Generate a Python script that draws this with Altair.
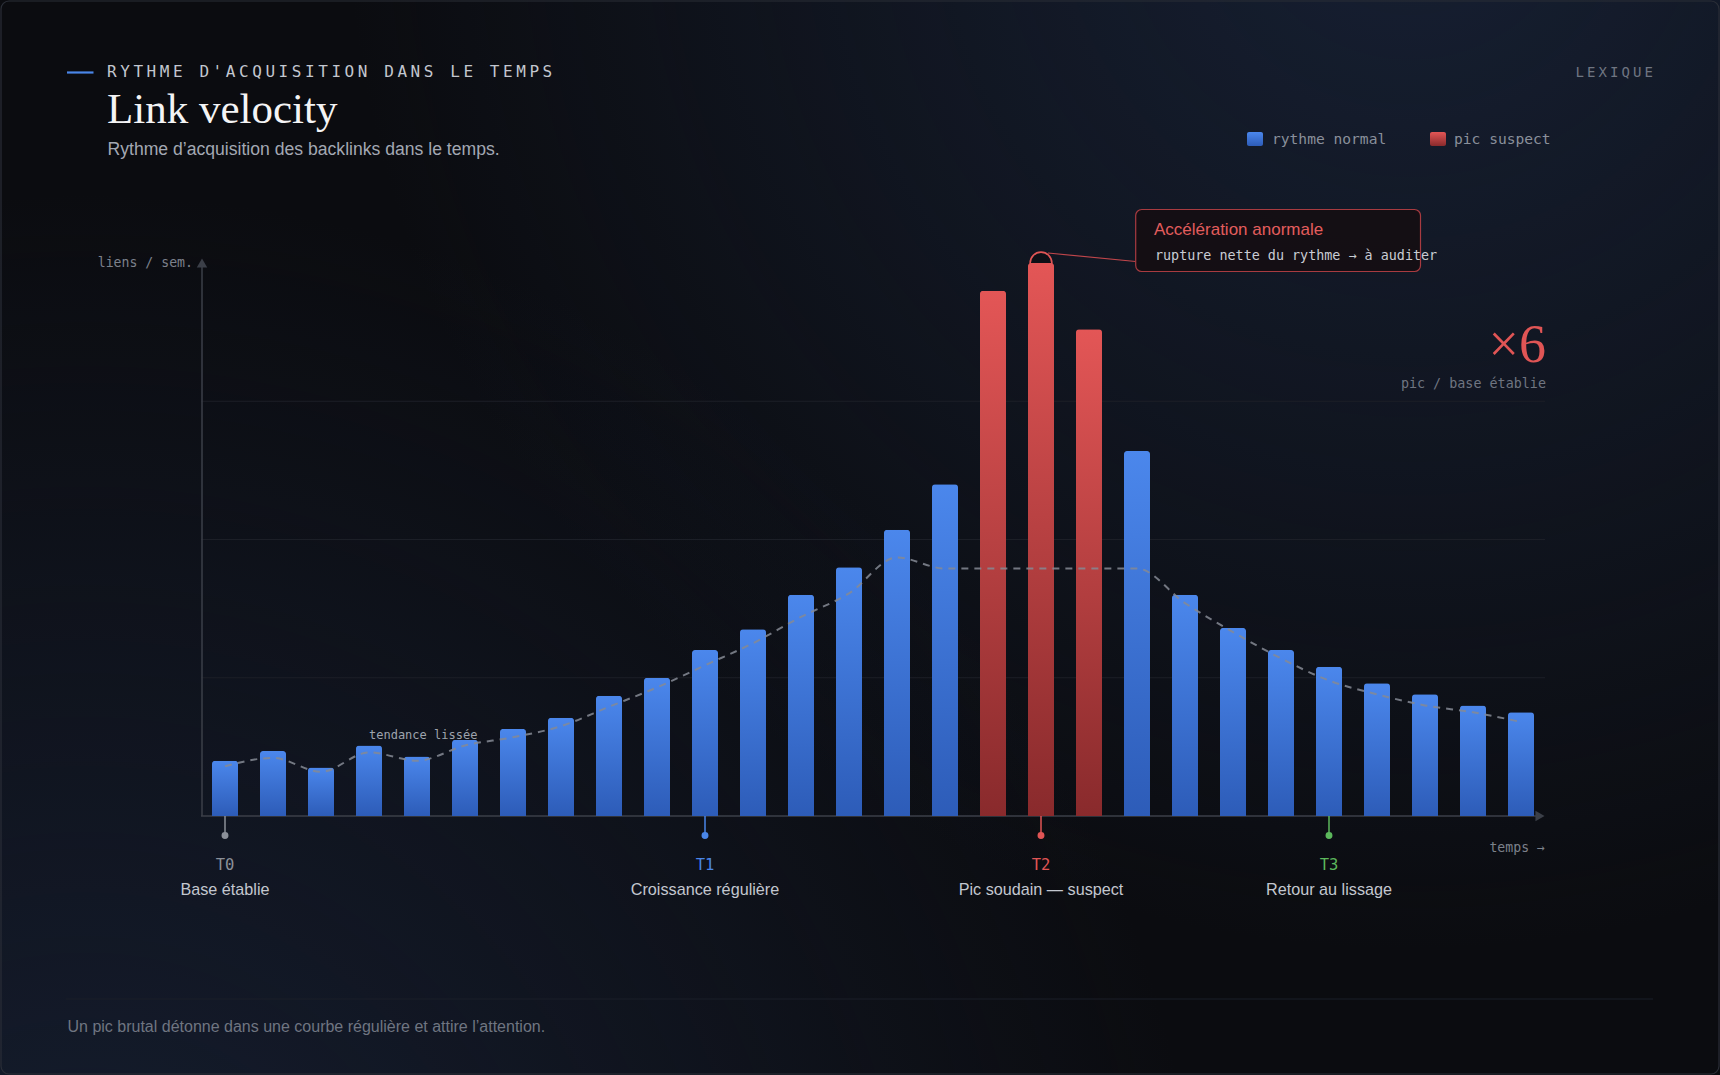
import altair as alt
import pandas as pd

# ---- data -------------------------------------------------------------
weeks = list(range(28))
links_per_week = [4.0, 4.7, 3.5, 5.1, 4.3, 5.5, 6.3, 7.1, 8.7, 10.0,
                  12.0, 13.5, 16.0, 18.0, 20.7, 24.0, 38.0, 40.0, 35.2, 26.4,
                  16.0, 13.6, 12.0, 10.8, 9.6, 8.8, 8.0, 7.5]
suspect_weeks = [16, 17, 18]
smoothed_trend = [3.6, 4.2, 3.2, 4.6, 4.0, 5.1, 5.7, 6.5, 7.9, 9.3,
                  10.9, 12.5, 14.4, 16.1, 18.7, 17.9, 17.9, 17.9, 17.9, 17.9,
                  15.4, 13.3, 11.4, 9.8, 8.8, 8.0, 7.5, 6.8]
grid_values = [10, 20, 30]

milestone_weeks = [0, 10, 17, 23]
milestone_codes = ["T0", "T1", "T2", "T3"]
milestone_labels = ["Base établie", "Croissance régulière",
                    "Pic soudain — suspect", "Retour au lissage"]
milestone_colors = ["#8b9099", "#4a86e8", "#e05555", "#5cb85c"]

peak_week = 17
peak_value = 40.0

# ---- layout ---------------------------------------------------------------
W, H = 1344, 553          # plot area
PX, PY = 201, 263         # plot origin on the page
SANS = "Liberation Sans"
MONO = "DejaVu Sans Mono"
SERIF = "Liberation Serif"

xscale = alt.Scale(domain=[-0.5, 27.5], nice=False, zero=False, padding=0)
yscale = alt.Scale(domain=[0, 40], nice=False, padding=0)

blue_fill = alt.LinearGradient(
    gradient="linear", x1=0, y1=0, x2=0, y2=1,
    stops=[alt.GradientStop(color="#4b87ec", offset=0),
           alt.GradientStop(color="#2d5cb8", offset=1)])
red_fill = alt.LinearGradient(
    gradient="linear", x1=0, y1=0, x2=0, y2=1,
    stops=[alt.GradientStop(color="#e35656", offset=0),
           alt.GradientStop(color="#892a2c", offset=1)])


def one():
    return alt.Chart(pd.DataFrame({"k": [0]}))


def box(X1, Y1, X2, Y2, **kw):
    return one().mark_rect(**kw).encode(
        x=alt.value(X1 - PX), x2=alt.value(X2 - PX),
        y=alt.value(Y1 - PY), y2=alt.value(Y2 - PY))


def line(X1, Y1, X2, Y2, color, width=1.0, **kw):
    return one().mark_rule(color=color, strokeWidth=width, **kw).encode(
        x=alt.value(X1 - PX), x2=alt.value(X2 - PX),
        y=alt.value(Y1 - PY), y2=alt.value(Y2 - PY))


def txt(s, X, Y, size, color, font=SANS, align="left", baseline="middle"):
    return alt.Chart(pd.DataFrame({"t": [s]})).mark_text(
        font=font, fontSize=size, color=color, align=align, baseline=baseline
    ).encode(x=alt.value(X - PX), y=alt.value(Y - PY), text="t:N")


def spaced(s, X, Y, step, size, color):
    df = pd.DataFrame({"c": list(s), "i": list(range(len(s)))})
    return alt.Chart(df).transform_calculate(
        px=f"{X - PX} + datum.i * {step}"
    ).mark_text(font=MONO, fontSize=size, color=color, align="left",
                baseline="middle").encode(
        x=alt.X("px:Q", scale=None, axis=None),
        y=alt.value(Y - PY), text="c:N")


# ---- background -------------------------------------------------------------
haze_tr = alt.RadialGradient(
    gradient="radial", x1=0.82, y1=0.12, r1=0, x2=0.82, y2=0.12, r2=0.62,
    stops=[alt.GradientStop(color="rgba(26,38,62,0.75)", offset=0),
           alt.GradientStop(color="rgba(26,38,62,0)", offset=1)])
haze_bl = alt.RadialGradient(
    gradient="radial", x1=0.05, y1=0.95, r1=0, x2=0.05, y2=0.95, r2=0.65,
    stops=[alt.GradientStop(color="rgba(24,34,56,0.8)", offset=0),
           alt.GradientStop(color="rgba(24,34,56,0)", offset=1)])

bg1 = box(0, 0, 1720, 1075, fill=haze_tr)
bg2 = box(0, 0, 1720, 1075, fill=haze_bl)
frame = box(1, 1, 1719, 1074, fill="transparent", stroke="#2a2e37",
            strokeWidth=1.2, cornerRadius=8)

# ---- plot furniture ---------------------------------------------------------
grid = alt.Chart(pd.DataFrame({"g": grid_values})).mark_rule(
    color="#1c1f27", strokeWidth=1).encode(
    y=alt.Y("g:Q", scale=yscale, axis=None),
    x=alt.value(0), x2=alt.value(W))

axis_color = "#3b3f48"
y_axis = one().mark_rule(color=axis_color, strokeWidth=1.5).encode(
    x=alt.value(1), y=alt.value(H), y2=alt.value(4))
x_axis = one().mark_rule(color=axis_color, strokeWidth=1.5).encode(
    x=alt.value(0), x2=alt.value(W - 8), y=alt.value(H))
y_arrow = one().mark_point(shape="triangle-up", filled=True, size=110,
                           color=axis_color, opacity=1).encode(
    x=alt.value(1), y=alt.value(0))
x_arrow = one().mark_point(shape="triangle-right", filled=True, size=110,
                           color=axis_color, opacity=1).encode(
    x=alt.value(W - 5), y=alt.value(H))

# ---- bars ---------------------------------------------------------------------
bars_df = pd.DataFrame({
    "week": weeks,
    "links": links_per_week,
    "suspect": [w in suspect_weeks for w in weeks],
})

peak_ring = alt.Chart(pd.DataFrame({"week": [peak_week], "links": [peak_value]})).mark_point(
    shape="circle", filled=True, size=470, fill="#0d1017", stroke="#e05555",
    strokeWidth=1.6, opacity=1).encode(
    x=alt.X("week:Q", scale=xscale, axis=None),
    y=alt.Y("links:Q", scale=yscale, axis=None))

bar_base = alt.Chart(bars_df).encode(
    x=alt.X("week:Q", scale=xscale, axis=None),
    y=alt.Y("links:Q", scale=yscale, axis=None))

normal_bars = bar_base.transform_filter("!datum.suspect").mark_bar(
    size=26, cornerRadiusTopLeft=3, cornerRadiusTopRight=3, fill=blue_fill)
suspect_bars = bar_base.transform_filter("datum.suspect").mark_bar(
    size=26, cornerRadiusTopLeft=3, cornerRadiusTopRight=3, fill=red_fill)

trend = alt.Chart(pd.DataFrame({"week": weeks, "trend": smoothed_trend})).mark_line(
    color="#858a94", strokeWidth=2, strokeDash=[7, 6], opacity=0.85,
    interpolate="monotone").encode(
    x=alt.X("week:Q", scale=xscale, axis=None),
    y=alt.Y("trend:Q", scale=yscale, axis=None))

# ---- milestones -------------------------------------------------------------
ms_df = pd.DataFrame({
    "week": milestone_weeks, "code": milestone_codes,
    "label": milestone_labels, "col": milestone_colors,
})
ms_base = alt.Chart(ms_df).encode(
    x=alt.X("week:Q", scale=xscale, axis=None),
    color=alt.Color("col:N", scale=None, legend=None))
ms_stem = ms_base.mark_rule(strokeWidth=1.5).encode(
    y=alt.value(H), y2=alt.value(835 - PY))
ms_dot = ms_base.mark_circle(size=48, opacity=1).encode(y=alt.value(835.5 - PY))
ms_code = ms_base.mark_text(font=MONO, fontSize=15.5, baseline="middle").encode(
    y=alt.value(864.5 - PY), text="code:N")
ms_label = alt.Chart(ms_df).mark_text(
    font=SANS, fontSize=16.2, baseline="middle", color="#c3c7cf").encode(
    x=alt.X("week:Q", scale=xscale, axis=None),
    y=alt.value(889.5 - PY), text="label:N")

# ---- annotation ---------------------------------------------------------------
connector = line(1048, 253, 1135.7, 261.5, "#c0464b", 1.2)
callout = box(1135.7, 209.5, 1420.5, 271.5, fill="#150e12", fillOpacity=0.92,
              stroke="#a83b40", strokeWidth=1.2, cornerRadius=6)
callout_title = txt("Accélération anormale", 1154, 230, 17, "#e35d5d")
callout_sub = txt("rupture nette du rythme → à auditer", 1155, 256, 13.4,
                  "#c9ccd3", font=MONO)

ratio = txt("×6", 1546, 362, 54, "#e05555", font=SERIF, align="right",
            baseline="alphabetic")
ratio_sub = txt("pic / base établie", 1546, 384, 13.4, "#6f7581", font=MONO,
                align="right")

# ---- texts ----------------------------------------------------------------------
accent = line(67, 72.5, 93.5, 72.5, "#4a86e8", 2.2)
kicker = spaced("RYTHME D'ACQUISITION DANS LE TEMPS", 107, 72, 13.2, 16, "#c3c7cf")
title = txt("Link velocity", 107, 123, 43, "#f4f4f5", font=SERIF,
            baseline="alphabetic")
subtitle = txt("Rythme d’acquisition des backlinks dans le temps.", 107.5, 150,
               17.6, "#a3a8b3")
lexique = spaced("LEXIQUE", 1575.5, 72.5, 11.5, 14, "#6f7581")

legend_blue = box(1247, 132, 1263, 146, fill=blue_fill, cornerRadius=2)
legend_blue_t = txt("rythme normal", 1272, 139.5, 14.6, "#8a909b", font=MONO)
legend_red = box(1430, 132, 1446, 146, fill=red_fill, cornerRadius=2)
legend_red_t = txt("pic suspect", 1454, 139.5, 14.6, "#8a909b", font=MONO)

y_label = txt("liens / sem.", 193, 262.5, 13.2, "#7c818b", font=MONO, align="right")
x_label = txt("temps →", 1545, 847.5, 13.2, "#7c818b", font=MONO, align="right")
trend_label = txt("tendance lissée", 369, 734.5, 12, "#9ea3ad", font=MONO)

divider = line(66, 999, 1653, 999, "#1b1f28", 1)
footer = txt("Un pic brutal détonne dans une courbe régulière et attire l’attention.",
             67.5, 1027, 16, "#6f7581")

chart = alt.layer(
    bg1, bg2, frame,
    grid, y_axis, x_axis, y_arrow, x_arrow,
    peak_ring, normal_bars, suspect_bars, trend,
    ms_stem, ms_dot, ms_code, ms_label,
    connector, callout, callout_title, callout_sub, ratio, ratio_sub,
    accent, kicker, title, subtitle, lexique,
    legend_blue, legend_blue_t, legend_red, legend_red_t,
    y_label, x_label, trend_label, divider, footer,
).properties(
    width=W, height=H,
    padding={"left": PX, "top": PY, "right": 1720 - PX - W, "bottom": 1075 - PY - H},
    autosize=alt.AutoSizeParams(type="none"),
    background="#0b0c10",
).configure_view(stroke=None)

chart.save("out.html", embed_options={"renderer": "svg", "actions": False})
